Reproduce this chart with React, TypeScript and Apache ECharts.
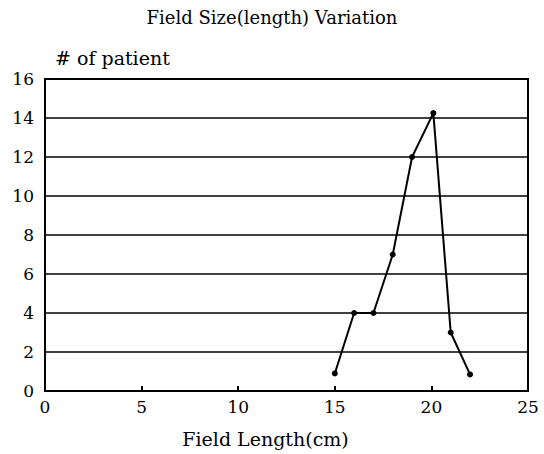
import React, { useEffect, useRef } from "react";
import * as echarts from "echarts";

const titleText = "Field Size(length) Variation";
const xName = "Field Length(cm)";
const yName = "# of patient";
const xLengths = [15, 16, 17, 18, 19, 20.1, 21, 22];
const patients = [0.9, 4, 4, 7, 12, 14.25, 3, 0.85];

const FONT = "DejaVu Serif";

export default function App() {
  const ref = useRef<HTMLDivElement>(null);
  useEffect(() => {
    const chart = echarts.init(ref.current!, null, { renderer: "svg" });
    chart.setOption({
      animation: false,
      backgroundColor: "#fff",
      title: {
        text: titleText,
        left: "center",
        top: 3,
        textStyle: { fontFamily: FONT, fontSize: 18, fontWeight: "normal", color: "#000" },
      },
      grid: {
        left: 45,
        right: 16,
        top: 79,
        bottom: 63,
        outerBoundsMode: "none",
        containLabel: false,
        show: true,
        borderColor: "#000",
        borderWidth: 2,
        backgroundColor: "transparent",
      },
      xAxis: {
        type: "value",
        min: 0,
        max: 25,
        interval: 5,
        name: xName,
        nameLocation: "middle",
        nameGap: 38,
        nameTextStyle: { fontFamily: FONT, fontSize: 19, color: "#000", padding: [0, 42, 0, 0] },
        axisLine: { lineStyle: { color: "#000", width: 2 } },
        axisTick: { inside: true, length: 5, lineStyle: { color: "#000", width: 2 } },
        axisLabel: { fontFamily: FONT, fontSize: 17, color: "#000", margin: 7 },
        splitLine: { show: false },
      },
      yAxis: {
        type: "value",
        min: 0,
        max: 16,
        interval: 2,
        name: yName,
        nameLocation: "end",
        nameGap: 12,
        nameTextStyle: { fontFamily: FONT, fontSize: 19, color: "#000", align: "left", padding: [0, 0, 0, 10] },
        axisLine: { show: true, lineStyle: { color: "#000", width: 2 } },
        axisTick: { show: false },
        axisLabel: { fontFamily: FONT, fontSize: 17, color: "#000", margin: 11 },
        splitLine: { show: true, lineStyle: { color: "#000", width: 1.5 } },
      },
      series: [
        {
          type: "line",
          data: xLengths.map((x, i) => [x, patients[i]]),
          symbol: "circle",
          symbolSize: 6,
          lineStyle: { color: "#000", width: 2 },
          itemStyle: { color: "#000" },
        },
      ],
    });
    return () => chart.dispose();
  }, []);
  return (
    <div
      ref={ref}
      style={{ position: "fixed", left: 0, top: 0, width: 544, height: 454 }}
    />
  );
}
